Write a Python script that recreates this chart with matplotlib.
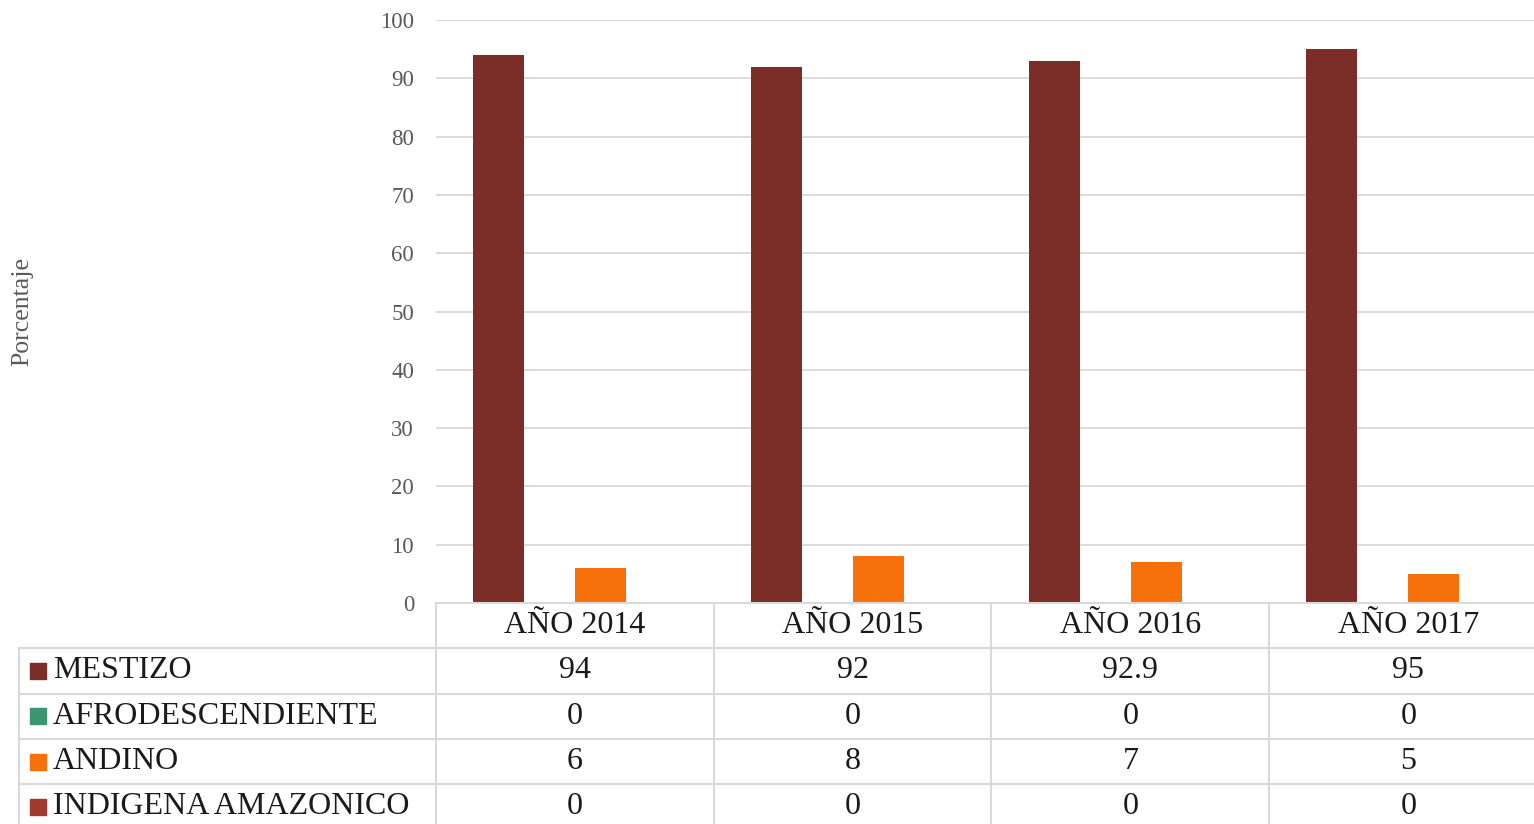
import numpy as np
import matplotlib.pyplot as plt

plt.rcParams['font.family'] = ['Liberation Serif', 'DejaVu Serif']

anios = ['AÑO 2014', 'AÑO 2015', 'AÑO 2016', 'AÑO 2017']
grupos = ['MESTIZO', 'AFRODESCENDIENTE', 'ANDINO', 'INDIGENA AMAZONICO']
mestizo = [94, 92, 92.9, 95]
afro = [0, 0, 0, 0]
andino = [6, 8, 7, 5]
indigena = [0, 0, 0, 0]
series = [mestizo, afro, andino, indigena]
colores = ['#7B2D27', '#3C9470', '#F7700A', '#A33A32']

W, H = 1534, 824
cw = 277.8  # pixel width of one year column
fig = plt.figure(figsize=(W / 100, H / 100), dpi=100)

# main chart area (pixels -> figure fractions); last column runs past the right edge
ax = fig.add_axes([436 / W, (H - 603) / H, 4 * cw / W, (603 - 20) / H])
x = np.arange(len(anios)) + 0.5
bw = 51 / cw
for i, (vals, col) in enumerate(zip(series, colores)):
    ax.bar(x + (i - 1.5) * bw, vals, bw, color=col, zorder=3)

ax.set_xlim(0, 4)
ax.set_ylim(0, 100)
ax.set_yticks(np.arange(0, 101, 10))
ax.set_xticks([])
ax.yaxis.grid(True, color='#d9d9d9', lw=1.3, zorder=0)
for s in ax.spines.values():
    s.set_visible(False)
ax.tick_params(axis='y', length=0, pad=15.8, labelsize=16.5, labelcolor='#595959')
fig.text(22 / W, 1 - 311 / H, 'Porcentaje', rotation=90, ha='center', va='center',
         fontsize=18.5, color='#595959')

# data table below the chart
row_h = 45.3
nrows = 5
tab = fig.add_axes([19 / W, (H - 603 - nrows * row_h) / H, (436 - 19 + 4 * cw) / W, nrows * row_h / H])
tab.set_xlim(-1.5, 4)
tab.set_ylim(nrows, 0)
tab.axis('off')
lc = '#d9d9d9'
lw = 1.5
tab.plot([0, 4], [0, 0], color=lc, lw=lw, clip_on=False)
for r in range(1, nrows):
    tab.plot([-1.5, 4], [r, r], color=lc, lw=lw, clip_on=False)
tab.plot([-1.5, -1.5], [1, nrows], color=lc, lw=lw, clip_on=False)
for c in range(5):
    tab.plot([c, c], [0, nrows], color=lc, lw=lw, clip_on=False)

for j, a in enumerate(anios):
    tab.text(j + 0.5, 0.5, a, ha='center', va='center', fontsize=23, color='#1a1a1a')

for i, (g, vals, col) in enumerate(zip(grupos, series, colores)):
    yr = i + 1.5
    tab.scatter([-1.5 + 0.068], [yr], marker='s', s=145, color=col, clip_on=False)
    tab.text(-1.5 + 0.122, yr, g, ha='left', va='center', fontsize=23, color='#1a1a1a')
    for j, v in enumerate(vals):
        tab.text(j + 0.5, yr, f'{v:g}', ha='center', va='center', fontsize=23, color='#1a1a1a')

fig.savefig('out.png', dpi=100)
